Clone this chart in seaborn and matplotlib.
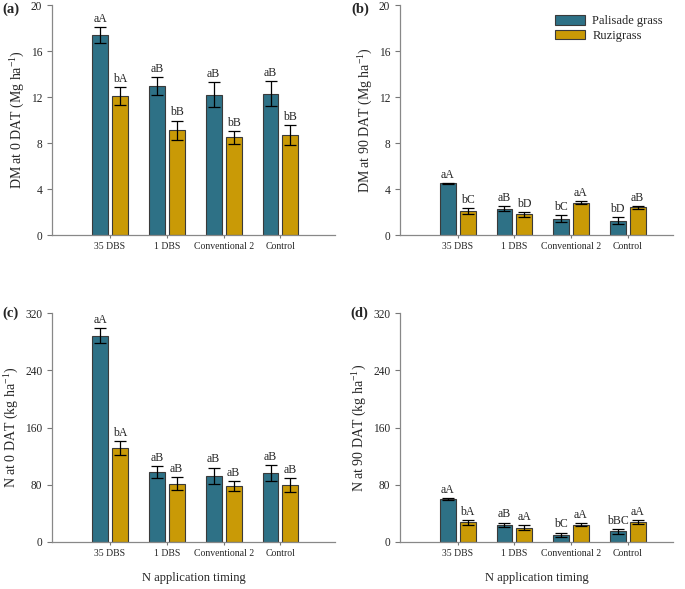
import matplotlib
matplotlib.use('Agg')
import matplotlib.pyplot as plt
import seaborn as sns
import pandas as pd
from matplotlib.patches import Patch

# Data
timings = ['35 DBS', '1 DBS', 'Conventional 2', 'Control']
grasses = ['Palisade grass', 'Ruzigrass']

dm0_pal = [17.4, 12.95, 12.2, 12.3]
dm0_pal_err = [0.7, 0.75, 1.08, 1.06]
dm0_ruz = [12.1, 9.1, 8.5, 8.7]
dm0_ruz_err = [0.8, 0.85, 0.55, 0.9]
dm0_lab_pal = ['aA', 'aB', 'aB', 'aB']
dm0_lab_ruz = ['bA', 'bB', 'bB', 'bB']

dm90_pal = [4.5, 2.3, 1.42, 1.25]
dm90_pal_err = [0.05, 0.24, 0.3, 0.3]
dm90_ruz = [2.1, 1.8, 2.82, 2.4]
dm90_ruz_err = [0.25, 0.22, 0.14, 0.14]
dm90_lab_pal = ['aA', 'aB', 'bC', 'bD']
dm90_lab_ruz = ['bC', 'bD', 'aA', 'aB']

n0_pal = [288.5, 98.0, 92.5, 96.5]
n0_pal_err = [10.0, 8.0, 11.5, 11.4]
n0_ruz = [131.0, 81.5, 78.0, 80.0]
n0_ruz_err = [9.7, 9.0, 6.8, 9.5]
n0_lab_pal = ['aA', 'aB', 'aB', 'aB']
n0_lab_ruz = ['bA', 'aB', 'aB', 'aB']

n90_pal = [60.0, 24.2, 10.2, 14.9]
n90_pal_err = [1.0, 3.0, 3.0, 3.3]
n90_ruz = [27.4, 20.0, 24.2, 27.9]
n90_ruz_err = [3.7, 3.2, 2.0, 3.0]
n90_lab_pal = ['aA', 'aB', 'bC', 'bBC']
n90_lab_ruz = ['bA', 'aA', 'aA', 'aA']

colors = ['#2E7186', '#C99A06']

sns.set_style('ticks')
plt.rcParams['font.family'] = ['Liberation Serif', 'DejaVu Serif']
plt.rcParams['mathtext.fontset'] = 'custom'
plt.rcParams['mathtext.rm'] = 'Liberation Serif'
plt.rcParams['mathtext.it'] = 'Liberation Serif:italic'

fig = plt.figure(figsize=(6.85, 5.89), dpi=100)
W, H = 685.0, 589.0


def make_ax(left, top, right, bottom):
    return fig.add_axes([left / W, 1 - bottom / H, (right - left) / W, (bottom - top) / H])


def panel(ax, pal, pal_err, ruz, ruz_err, lab_pal, lab_ruz, ymax, step, ylabel, xmax, xlabel=None):
    df = pd.DataFrame({
        'timing': timings * 2,
        'grass': [grasses[0]] * 4 + [grasses[1]] * 4,
        'value': pal + ruz,
    })
    sns.barplot(data=df, x='timing', y='value', hue='grass', order=timings,
                hue_order=grasses, palette=colors, saturation=1, width=0.7, gap=0.2,
                edgecolor='#3a3a3a', linewidth=0.8, errorbar=None,
                legend=False, ax=ax)
    errs = [pal_err, ruz_err]
    labs = [lab_pal, lab_ruz]
    for cont, err, lab in zip(ax.containers, errs, labs):
        xs = [b.get_x() + b.get_width() / 2 for b in cont]
        hs = [b.get_height() for b in cont]
        ax.errorbar(xs, hs, yerr=err, fmt='none', ecolor='black',
                    elinewidth=0.9, capsize=4, capthick=0.9)
        for x, h, e, t in zip(xs, hs, err, lab):
            ax.annotate(t, (x, h + e), xytext=(0, 1.5), textcoords='offset points',
                        ha='center', va='bottom', fontsize=8.5)
    ax.set_ylim(0, ymax)
    ax.set_yticks(range(0, ymax + 1, step))
    ax.set_xlim(-1.02, xmax)
    ax.set_ylabel(ylabel, fontsize=10, labelpad=3)
    ax.set_xlabel(xlabel if xlabel else '', fontsize=9, labelpad=10)
    ax.tick_params(axis='y', labelsize=8.3, length=3.5, color='#777777', width=0.8)
    ax.tick_params(axis='x', labelsize=7, length=2, color='#777777', width=0.8, pad=3)
    sns.despine(ax=ax)
    for s in ['left', 'bottom']:
        ax.spines[s].set_color('#888888')
        ax.spines[s].set_linewidth(0.9)


ax_a = make_ax(52, 5, 335, 235)
ax_b = make_ax(400, 5, 673, 235)
ax_c = make_ax(52, 313, 335, 542)
ax_d = make_ax(400, 313, 673, 542)

panel(ax_a, dm0_pal, dm0_pal_err, dm0_ruz, dm0_ruz_err, dm0_lab_pal, dm0_lab_ruz,
      20, 4, 'DM at 0 DAT (Mg ha$^{-1}$)', 3.96)
panel(ax_b, dm90_pal, dm90_pal_err, dm90_ruz, dm90_ruz_err, dm90_lab_pal, dm90_lab_ruz,
      20, 4, 'DM at 90 DAT (Mg ha$^{-1}$)', 3.8)
panel(ax_c, n0_pal, n0_pal_err, n0_ruz, n0_ruz_err, n0_lab_pal, n0_lab_ruz,
      320, 80, 'N at 0 DAT (kg ha$^{-1}$)', 3.96, 'N application timing')
panel(ax_d, n90_pal, n90_pal_err, n90_ruz, n90_ruz_err, n90_lab_pal, n90_lab_ruz,
      320, 80, 'N at 90 DAT (kg ha$^{-1}$)', 3.8, 'N application timing')

# Panel tags
for tag, px, py in [('(a)', 2, 9), ('(b)', 351, 9), ('(c)', 2, 313), ('(d)', 350, 313)]:
    fig.text(px / W, 1 - py / H, tag, fontsize=10.5, fontweight='bold',
             ha='left', va='center')

# Legend only on panel (b)
handles = [Patch(facecolor=c, edgecolor='#3a3a3a', linewidth=0.8) for c in colors]
ax_b.legend(handles, grasses, loc='upper right', bbox_to_anchor=(1.0, 1.0),
            frameon=False, fontsize=9, handlelength=2.4, handleheight=0.8,
            labelspacing=0.2, handletextpad=0.6, borderaxespad=0.4)

fig.savefig('out.png', dpi=100)
